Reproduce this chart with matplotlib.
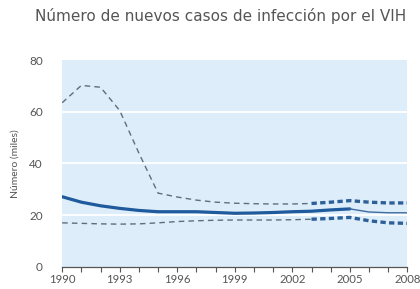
import matplotlib
matplotlib.use("Agg")
import matplotlib.pyplot as plt

# valores (miles)
years = list(range(1990, 2009))
upper = [63.5, 70.2, 69.5, 60.5, 44.0, 28.5, 27.0, 25.8, 25.0, 24.6, 24.4, 24.3, 24.3, 24.5, 25.0, 25.6, 25.0, 24.7, 24.7]
central = [27.1, 25.0, 23.6, 22.6, 21.8, 21.3, 21.3, 21.3, 21.0, 20.7, 20.8, 21.0, 21.3, 21.5, 22.0, 22.4, 21.2, 20.9, 20.9]
lower = [17.0, 16.8, 16.6, 16.5, 16.6, 17.0, 17.5, 17.8, 18.0, 18.1, 18.1, 18.1, 18.2, 18.4, 18.7, 19.1, 17.8, 17.0, 16.8]
xlabels = [1990, 1993, 1996, 1999, 2002, 2005, 2008]
yticks = [0, 20, 40, 60, 80]

title = "Número de nuevos casos de infección por el VIH"
ylabel = "Número (miles)"

plt.rcParams['font.family'] = ['Lato', 'DejaVu Sans']
txt = "#555555"

fig = plt.figure(figsize=(4.2, 2.89), dpi=100, facecolor="white")
ax = fig.add_axes([0.148, 0.077, 0.822, 0.715])
ax.set_facecolor("#ddeefa")

i03 = years.index(2003)
i05 = years.index(2005)

# bandas: tramo fino gris hasta 2003, tramo grueso azul despues
for s in (upper, lower):
    ax.plot(years[:i03 + 1], s[:i03 + 1], color="#5e6e80", lw=1.0,
            dashes=(4, 3), zorder=3)
    ax.plot(years[i03:], s[i03:], color="#2d5f98", lw=2.4,
            dashes=(1.6, 1.0), zorder=3)

# estimacion central
ax.plot(years[:i05 + 1], central[:i05 + 1], color="#1f5a9c", lw=2.3,
        solid_capstyle="round", zorder=4)
ax.plot(years[i05:], central[i05:], color="#3f6b9e", lw=1.0, zorder=4)

ax.set_xlim(1990, 2008)
ax.set_ylim(0, 80)
ax.set_yticks(yticks)
ax.set_xticks(xlabels)
ax.set_xticks(years, minor=True)
ax.set_xticklabels([str(y) for y in xlabels])

for y in yticks[1:-1]:
    ax.axhline(y, color="white", lw=1.3, zorder=1)

for sp in ("top", "right", "left"):
    ax.spines[sp].set_visible(False)
ax.spines["bottom"].set_color("#555555")
ax.spines["bottom"].set_linewidth(0.9)

ax.tick_params(axis="y", length=0, labelsize=8.5, labelcolor=txt, pad=14)
ax.tick_params(axis="x", which="both", direction="out", length=3.5,
               width=0.8, color="#555555", labelsize=8.2, labelcolor=txt, pad=2)

ax.set_ylabel(ylabel, fontsize=7.5, color=txt, labelpad=7)
fig.text(0.083, 0.945, title, fontsize=11, color=txt, ha="left", va="center",
         family=["DejaVu Sans"])

fig.savefig("out.png", dpi=100)
